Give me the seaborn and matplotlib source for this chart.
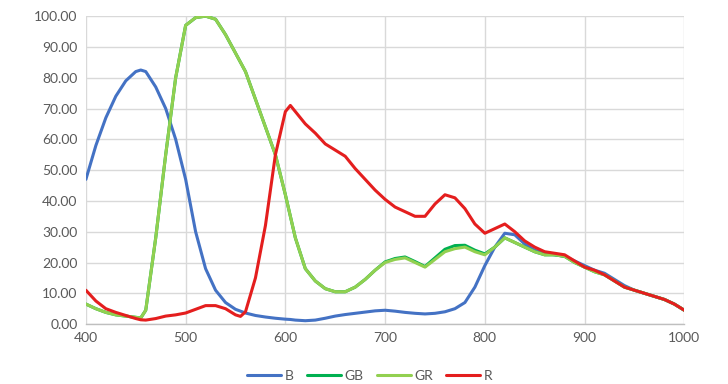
import pandas as pd
import numpy as np
import matplotlib.pyplot as plt
import seaborn as sns

# wavelength (nm)
wavelength = [400, 410, 420, 430, 440, 450, 455, 460, 470, 480, 490, 500, 510, 520, 530, 540,
              550, 555, 560, 570, 580, 590, 600, 605, 610, 620, 630, 640, 650, 660, 670, 680,
              690, 700, 710, 720, 730, 740, 750, 760, 770, 780, 790, 800, 810, 820, 830, 840,
              850, 860, 870, 880, 890, 900, 910, 920, 930, 940, 950, 960, 970, 980, 990, 1000]

b_vals = [47, 58, 67, 74, 79, 82, 82.5, 82, 77, 70, 60, 47, 30, 18, 11, 7,
          4.8, 4.2, 3.6, 2.8, 2.3, 1.9, 1.6, 1.5, 1.3, 1.1, 1.3, 1.9, 2.6, 3.1, 3.5, 3.9,
          4.3, 4.5, 4.2, 3.8, 3.5, 3.3, 3.5, 4.0, 5.0, 7.0, 12, 19, 25, 29.5, 29, 26,
          24, 23, 22.5, 22, 20.5, 19, 17.5, 16.5, 14.5, 12.5, 11, 10, 9, 8, 6.5, 4.5]

gr_vals = [6.5, 5, 3.8, 3, 2.6, 2.2, 2, 4.5, 28, 55, 80, 97, 99.5, 100, 99, 94,
           88, 85, 82, 73, 64, 55, 42, 35, 28, 18, 14, 11.5, 10.5, 10.5, 12, 14.5,
           17.5, 20, 21, 21.5, 20, 18.5, 21, 23.5, 24.5, 25, 23.5, 22.5, 25, 28, 26.5, 25,
           23.5, 22.5, 22.5, 22, 20, 18.5, 17, 16, 14, 12, 11, 10, 9, 8, 6.5, 4.5]

gb_vals = [6.5, 5, 3.8, 3, 2.6, 2.2, 2, 4.5, 28, 55, 80, 97, 99.5, 100, 99, 94,
           88, 85, 82, 73, 64, 55, 42, 35, 28, 18, 14, 11.5, 10.5, 10.5, 12, 14.5,
           17.5, 20.2, 21.3, 21.8, 20.3, 18.7, 21.5, 24.3, 25.5, 25.6, 24, 22.8, 25, 28, 26.5, 25,
           23.5, 22.5, 22.5, 22, 20, 18.5, 17, 16, 14, 12, 11, 10, 9, 8, 6.5, 4.5]

r_vals = [11, 7.5, 5, 3.8, 2.8, 1.8, 1.4, 1.3, 1.8, 2.6, 3, 3.6, 4.8, 6, 6, 5,
          3, 2.5, 4, 15, 32, 55, 69, 71, 69, 65, 62, 58.5, 56.5, 54.5, 50.5, 47,
          43.5, 40.5, 38, 36.5, 35, 35, 39, 42, 41, 37.5, 32.5, 29.5, 31, 32.5, 30, 27,
          25, 23.5, 23, 22.5, 20.5, 18.5, 17.5, 16, 14, 12, 11, 10, 9, 8, 6.5, 4.5]

series = {'B': b_vals, 'GB': gb_vals, 'GR': gr_vals, 'R': r_vals}
colors = {'B': '#4472C4', 'GB': '#00B050', 'GR': '#92D050', 'R': '#E41E1E'}

sns.set_style("whitegrid")
plt.rcParams['font.family'] = ['Lato', 'DejaVu Sans']

fig = plt.figure(figsize=(7.28, 3.84), dpi=100)
ax = fig.add_axes([0.118, 0.156, 0.822, 0.802])

for name, vals in series.items():
    sns.lineplot(x=wavelength, y=vals, color=colors[name], linewidth=2.2, label=name, ax=ax)

ax.set_xlim(400, 1000)
ax.set_ylim(0, 100)
ax.set_xticks(range(400, 1001, 100))
ax.set_yticks(range(0, 101, 10))
ax.set_yticklabels([f'{v:.2f}' for v in range(0, 101, 10)])
ax.tick_params(axis='both', colors='#595959', labelsize=10, length=0, pad=6)
ax.grid(True, color='#D9D9D9', linewidth=1)
for s in ['top', 'right', 'left']:
    ax.spines[s].set_visible(False)
ax.spines['bottom'].set_color('#BFBFBF')
ax.spines['bottom'].set_linewidth(1)

ax.legend(loc='center', bbox_to_anchor=(0.508, 0.022), bbox_transform=fig.transFigure,
          ncol=4, frameon=False, fontsize=10, handlelength=2.45, columnspacing=0.95,
          handletextpad=0.25, labelcolor='#595959', borderpad=0)

plt.savefig('out.png', dpi=100)
